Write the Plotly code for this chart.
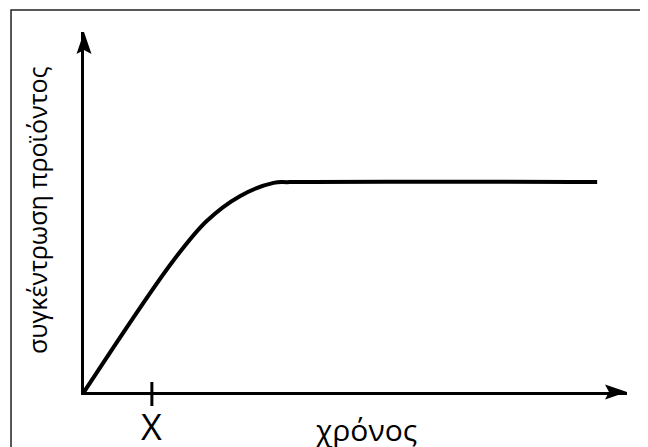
import plotly.graph_objects as go

# Product concentration against time (schematic, arbitrary units)
time = [0, 1.64, 2.26, 2.87, 3.49, 3.79, 9.45]
concentration = [0, 3.64, 4.75, 5.44, 5.81, 5.83, 5.83]

x_mark = 1.25
x_mark_label = 'X'
x_title = 'χρόνος'
y_title = 'συγκέντρωση προϊόντος'

font = 'Open Sans'

fig = go.Figure()
fig.add_trace(go.Scatter(x=time, y=concentration, mode='lines',
                         line=dict(color='black', width=4, shape='spline', smoothing=1.0),
                         hoverinfo='skip', showlegend=False))

fig.update_xaxes(range=[0, 10], showline=True, linecolor='black', linewidth=3,
                 showgrid=False, zeroline=False, showticklabels=False, ticks='')
fig.update_yaxes(range=[0, 10], showline=True, linecolor='black', linewidth=3,
                 showgrid=False, zeroline=False, showticklabels=False, ticks='')

# arrow heads at the ends of both axes (paper refs so they are not clipped)
fig.add_shape(type='path', xref='paper', yref='paper', xsizemode='pixel', ysizemode='pixel',
              xanchor=1, yanchor=0, path='M0,0 L-22,7.5 L-18,0 L-22,-7.5 Z',
              fillcolor='black', line=dict(width=0))
fig.add_shape(type='path', xref='paper', yref='paper', xsizemode='pixel', ysizemode='pixel',
              xanchor=0, yanchor=1, path='M0,0 L-7.5,-22 L0,-18 L7.5,-22 Z',
              fillcolor='black', line=dict(width=0))

# tick at X crossing the axis
fig.add_shape(type='line', xref='x', yref='paper', ysizemode='pixel', yanchor=0,
              x0=x_mark, x1=x_mark, y0=-14, y1=10, line=dict(color='black', width=3))

# outer frame
fig.add_shape(type='rect', xref='paper', yref='paper',
              x0=-0.1344, x1=1.0359, y0=-0.2, y1=1.0611,
              line=dict(color='#222222', width=1.5), layer='below')

fig.add_annotation(x=x_mark, y=0, xref='x', yref='paper', text=x_mark_label,
                   showarrow=False, yanchor='top', yshift=-8,
                   font=dict(family=font, size=36, color='black'))
fig.add_annotation(x=0.52, y=0, xref='paper', yref='paper', text=x_title,
                   showarrow=False, yanchor='top', yshift=-15,
                   font=dict(family=font, size=30, color='black'))
fig.add_annotation(x=-0.0866, y=0.5056, xref='paper', yref='paper', text=y_title,
                   showarrow=False, textangle=-90, xanchor='center', yanchor='middle',
                   font=dict(family=font, size=25, color='black'))

# page body has an 8px margin, so the figure is 8px smaller than the window
fig.update_layout(
    width=640, height=439,
    margin=dict(l=76, r=21, t=24, b=55),
    plot_bgcolor='white', paper_bgcolor='white'
)
fig.write_html('out.html')
